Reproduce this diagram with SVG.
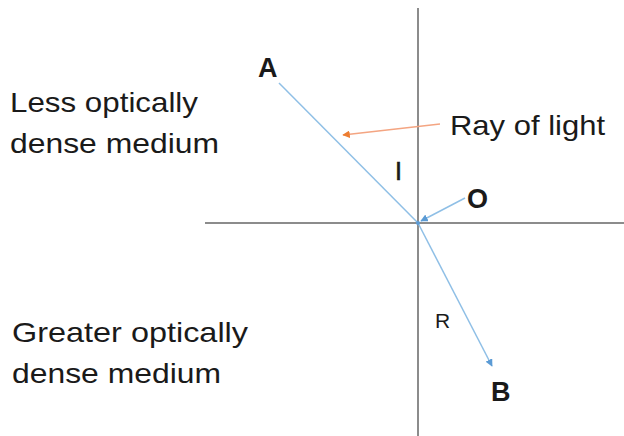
<svg xmlns="http://www.w3.org/2000/svg" width="624" height="436" viewBox="0 0 624 436">
<style>
.t{font-family:"Liberation Sans",Arial,sans-serif;fill:#1a1a1a}
.lab{font-size:28px}
.b{font-weight:bold;font-size:27px}
.s{font-size:21px}
.axis{stroke:#8c8c8c;stroke-width:2;fill:none}
.ray{stroke:#8fbfe6;stroke-width:1.5;fill:none}
</style>
<defs>
<marker id="ab" viewBox="0 0 10 10" refX="9" refY="5" markerWidth="5" markerHeight="5" orient="auto"><path d="M0,0L10,5L0,10z" fill="#5b9bd5"/></marker>
<marker id="ao" viewBox="0 0 10 10" refX="9" refY="5" markerWidth="5" markerHeight="5" orient="auto"><path d="M0,0L10,5L0,10z" fill="#ed7d31"/></marker>
</defs>
<g id="axes">
<line class="axis" x1="418" y1="8" x2="418" y2="436"/>
<line class="axis" x1="205" y1="223" x2="624" y2="223"/>
</g>
<g id="connectors">
<line class="ray" x1="279" y1="83" x2="418" y2="223"/>
<line class="ray" x1="418" y1="223" x2="492" y2="366" marker-end="url(#ab)"/>
<line class="ray" x1="465" y1="198" x2="421" y2="221" marker-end="url(#ab)"/>
<line x1="440" y1="124" x2="343" y2="135" stroke="#f4a582" stroke-width="1.5" marker-end="url(#ao)"/>
<circle cx="418" cy="223" r="2" fill="#5b9bd5"/>
</g>
<g id="labels">
<text class="t b" x="258" y="77">A</text>
<text class="t b" x="467" y="208">O</text>
<text class="t b" x="491" y="401">B</text>
<text class="t" x="395" y="180" font-size="25" stroke="#1a1a1a" stroke-width="0.6">I</text>
<text class="t s" x="435" y="328">R</text>
<text class="t lab" x="450" y="135" textLength="155" lengthAdjust="spacingAndGlyphs">Ray of light</text>
<text class="t lab" x="10" y="112" textLength="188" lengthAdjust="spacingAndGlyphs">Less optically</text>
<text class="t lab" x="10" y="153" textLength="209" lengthAdjust="spacingAndGlyphs">dense medium</text>
<text class="t lab" x="12" y="342" textLength="236" lengthAdjust="spacingAndGlyphs">Greater optically</text>
<text class="t lab" x="12" y="383" textLength="209" lengthAdjust="spacingAndGlyphs">dense medium</text>
</g>
</svg>
